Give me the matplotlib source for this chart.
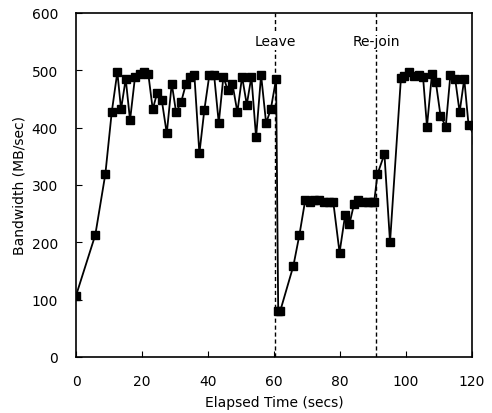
import matplotlib
matplotlib.use("Agg")
import matplotlib.pyplot as plt

# Data
time_s = [0, 5.85, 8.89, 10.83, 12.53, 13.65, 15.07, 16.38, 17.9, 19.41,
          20.72, 21.93, 23.26, 24.57, 26.0, 27.51, 29.03, 30.33, 31.85, 33.36,
          34.58, 35.88, 37.4, 38.91, 40.43, 41.86, 43.28, 44.68, 46.01, 47.41,
          48.92, 50.35, 51.77, 53.17, 54.59, 56.11, 57.63, 59.05, 60.66,
          61.3, 61.9, 65.9, 67.73, 69.5, 70.9, 72.3, 73.7, 75.2, 76.6, 78.0,
          79.9, 81.6, 82.9, 84.3, 85.6, 87.0, 88.4, 89.8, 90.4, 91.4, 93.5,
          95.2, 98.5, 99.5, 101.1, 102.5, 103.9, 105.2, 106.4, 107.9, 109.1,
          110.5, 112.1, 113.5, 114.95, 116.3, 117.7, 119.0, 121.5]
bandwidth = [107, 213, 319, 427, 497, 432, 485, 413, 489, 493,
             497, 493, 432, 460, 448, 390, 477, 427, 444, 477,
             489, 492, 355, 431, 492, 492, 408, 489, 465, 477,
             427, 489, 440, 489, 383, 492, 408, 432, 485,
             80, 80, 159, 213, 274, 271, 274, 273, 271, 271, 270,
             182, 248, 232, 267, 274, 271, 271, 271, 271, 319, 354,
             200, 486, 490, 497, 490, 491, 489, 402, 493, 479,
             421, 402, 492, 485, 427, 485, 405, 378]

event_times = [60.3, 91.0]
event_labels = ["Leave", "Re-join"]

x_ticks = [0, 20, 40, 60, 80, 100, 120]
y_ticks = [0, 100, 200, 300, 400, 500, 600]

fig = plt.figure(figsize=(4.92, 4.14), dpi=100)
ax = fig.add_axes([0.1545, 0.1353, 0.8045, 0.8309])

ax.plot(time_s, bandwidth, color="black", linewidth=1.3, marker="s",
        markersize=5.5, markerfacecolor="black", markeredgecolor="black")

for t, lab in zip(event_times, event_labels):
    ax.axvline(t, color="black", linestyle=(0, (3, 2)), linewidth=1.0)
    ax.text(t, 552, lab, ha="center", va="center", fontsize=10,
            bbox=dict(facecolor="white", edgecolor="none", pad=1.5))

ax.set_xlim(0, 120)
ax.set_ylim(0, 600)
ax.set_xticks(x_ticks)
ax.set_yticks(y_ticks)
ax.tick_params(direction="in", length=4, width=0.8, labelsize=10)
ax.tick_params(axis="x", pad=12)
ax.tick_params(axis="y", pad=13)
for s in ax.spines.values():
    s.set_linewidth(1.2)

ax.set_xlabel("Elapsed Time (secs)", fontsize=10, labelpad=5)
ax.set_ylabel("Bandwidth (MB/sec)", fontsize=10, labelpad=4)

fig.savefig("out.png", dpi=100)
